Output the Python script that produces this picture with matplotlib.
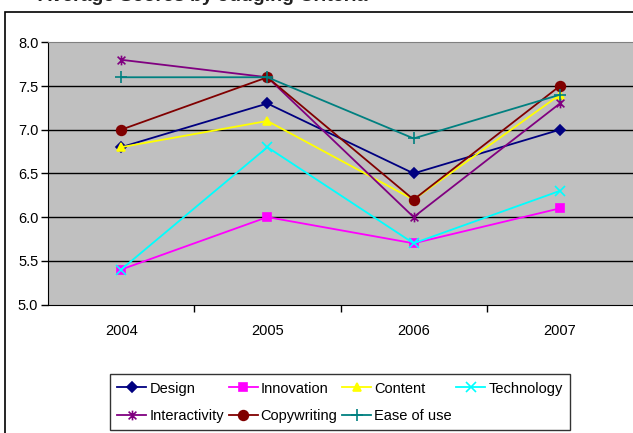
import matplotlib
matplotlib.use("Agg")
import matplotlib.pyplot as plt
from matplotlib.patches import Rectangle
from matplotlib.path import Path

years = ["2004", "2005", "2006", "2007"]
design = [6.8, 7.3, 6.5, 7.0]
innovation = [5.4, 6.0, 5.7, 6.1]
content = [6.8, 7.1, 6.2, 7.4]
technology = [5.4, 6.8, 5.7, 6.3]
interactivity = [7.8, 7.6, 6.0, 7.3]
copywriting = [7.0, 7.6, 6.2, 7.5]
ease_of_use = [7.6, 7.6, 6.9, 7.4]
yticks = [5.0, 5.5, 6.0, 6.5, 7.0, 7.5, 8.0]
title = "Average Scores by Judging Criteria"

plt.rcParams["font.family"] = ["Liberation Sans", "DejaVu Sans"]

fig = plt.figure(figsize=(6.33, 4.33), dpi=100)
W, H = 633, 433

# outer chart border
fig.patches.append(Rectangle((5 / W, -0.1), 1.2, (433 - 12) / H + 0.1,
                             transform=fig.transFigure, fill=False,
                             edgecolor="black", linewidth=1.2))

# clipped title (only descenders visible)
fig.text(38 / W, 1.0 - 1 / H, title, fontsize=14, fontweight="bold",
         color="#222222", va="baseline", ha="left")

# asterisk marker: X with vertical bar
star = Path([(-1, -1), (1, 1), (-1, 1), (1, -1), (0, -1.25), (0, 1.25)],
            [Path.MOVETO, Path.LINETO, Path.MOVETO, Path.LINETO, Path.MOVETO, Path.LINETO])

ax = fig.add_axes([48 / W, (433 - 304.5) / H, (633 - 48) / W, (304.5 - 42.3) / H])
ax.set_facecolor("#C0C0C0")

x = list(range(len(years)))
series = [
    ("Design", design, "#000080", "D", 5),
    ("Innovation", innovation, "#FF00FF", "s", 6),
    ("Content", content, "#FFFF00", "^", 6),
    ("Technology", technology, "#00FFFF", "x", 7),
    ("Interactivity", interactivity, "#800080", star, 7),
    ("Copywriting", copywriting, "#800000", "o", 7),
    ("Ease of use", ease_of_use, "#008080", "+", 8),
]
handles = {}
for name, vals, col, mk, ms in series:
    ln, = ax.plot(x, vals, color=col, marker=mk, markersize=ms, linewidth=1.3,
                  markeredgewidth=1.2, label=name, zorder=3)
    handles[name] = ln

ax.set_xlim(-0.5, 3.5)
ax.set_ylim(5.0, 8.0)
ax.set_yticks(yticks)
ax.set_yticklabels([f"{v:.1f}" for v in yticks], fontsize=10.5)
for v in yticks[1:-1]:
    ax.axhline(v, color="black", linewidth=1.0, zorder=1)

ax.set_xticks([0.5, 1.5, 2.5], minor=False)
ax.set_xticklabels([])
ax.set_xticks(x, minor=True)
ax.set_xticklabels(years, minor=True, fontsize=10.5)
ax.tick_params(axis="x", which="minor", length=0, pad=14)
ax.tick_params(axis="x", which="major", length=5, direction="out", width=1)
ax.tick_params(axis="y", length=5, direction="out", width=1, pad=2)

ax.spines["top"].set_color("#808080")
ax.spines["right"].set_visible(False)
ax.spines["left"].set_color("black")
ax.spines["bottom"].set_color("black")

order = ["Design", "Interactivity", "Innovation", "Copywriting",
         "Content", "Ease of use", "Technology"]
leg = fig.legend([handles[n] for n in order], order,
                 loc="lower left", bbox_to_anchor=(110 / W, (433 - 430) / H, 460 / W, 65 / H),
                 mode="expand", ncol=4, fontsize=10.5, frameon=True, fancybox=False,
                 edgecolor="black", handlelength=2.0, handletextpad=0.2,
                 columnspacing=0.6, borderaxespad=0, borderpad=0.5, labelspacing=0.9)
leg.get_frame().set_linewidth(1.0)

fig.savefig("out.png", dpi=100)
